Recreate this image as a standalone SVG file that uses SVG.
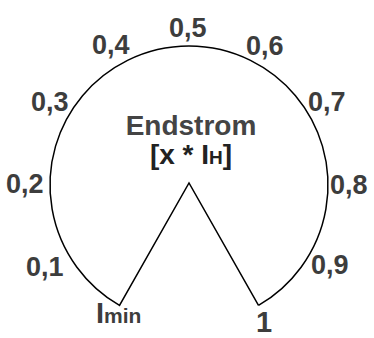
<svg xmlns="http://www.w3.org/2000/svg" width="374" height="338" viewBox="0 0 374 338">
<style>
.t{font-family:"Liberation Sans",Arial,sans-serif;font-weight:bold;fill:#3d3d3d;font-size:27px}
.c{font-family:"Liberation Sans",Arial,sans-serif;font-weight:bold;text-anchor:middle;font-size:28px}
</style>
<rect width="374" height="338" fill="#fff"/>
<g id="connectors">
<path d="M 258.5 305.4 L 189 183 L 119.5 305.4 A 139 139 0 1 1 258.5 305.4" fill="none" stroke="#000" stroke-width="1.5"/>
</g>
<g id="labels">
<text class="t" x="169" y="37">0,5</text>
<text class="t" x="92" y="54">0,4</text>
<text class="t" x="246" y="55">0,6</text>
<text class="t" x="31" y="111">0,3</text>
<text class="t" x="308" y="111">0,7</text>
<text class="t" x="6" y="193">0,2</text>
<text class="t" x="330" y="194">0,8</text>
<text class="t" x="26" y="276">0,1</text>
<text class="t" x="311" y="274">0,9</text>
<text class="t" x="96" y="323" style="font-size:29px">I<tspan style="font-size:21px">min</tspan></text>
<text class="t" x="256" y="332" style="font-size:29px">1</text>
</g>
<g id="center">
<text class="c" x="191" y="135" fill="#444">Endstrom</text>
<text class="c" x="191" y="164" fill="#222">[x * I<tspan font-size="19">H</tspan>]</text>
</g>
</svg>
